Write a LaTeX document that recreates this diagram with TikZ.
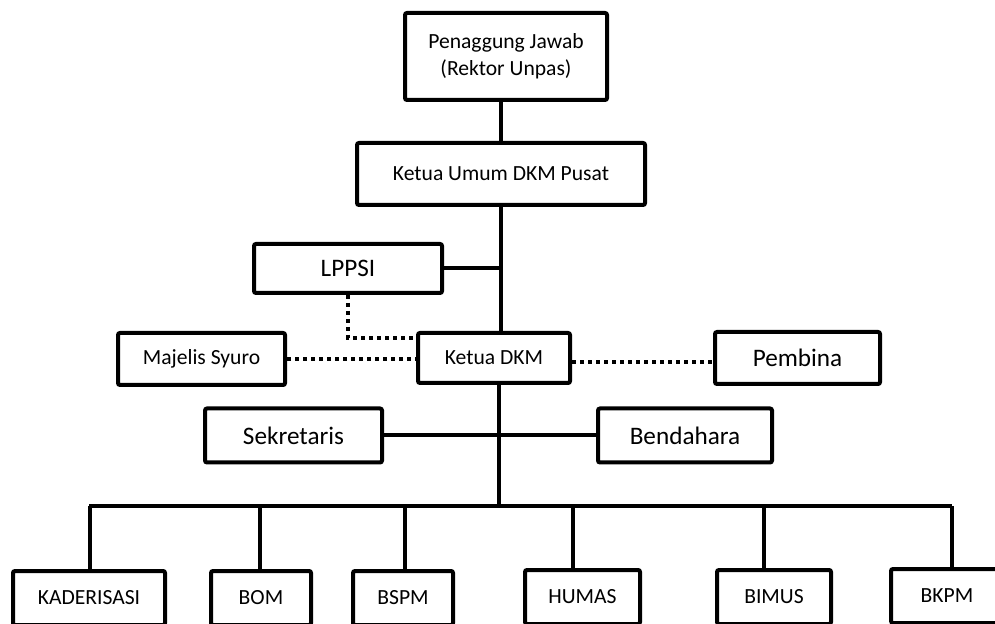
\documentclass[tikz,border=0pt]{standalone}
\usepackage{fontspec}
\setmainfont{Carlito}
\usepackage{tikz}
\usetikzlibrary{positioning,calc}

\begin{document}
\begin{tikzpicture}[x=0.5pt, y=-0.5pt,
    orgbox/.style={draw, line width=2pt, fill=white, rounded corners=1pt, inner sep=0pt,
        font=\fontsize{10.8}{13.5}\selectfont, align=center},
    bigbox/.style={orgbox, font=\fontsize{12.6}{15}\selectfont},
    link/.style={line width=2pt},
    dotlink/.style={line width=2pt, dash pattern=on 2pt off 2pt}]
    \useasboundingbox (0,0) rectangle (995,624);
    \clip (0,0) rectangle (995,624);

    % Top levels
    \node[orgbox, minimum width=101pt, minimum height=43.5pt] (pj) at (506,56.5)
        {Penaggung Jawab\\(Rektor Unpas)};
    \node[orgbox, minimum width=144pt, minimum height=31pt] (kum) at (501,174) {Ketua Umum DKM Pusat};
    \node[bigbox, minimum width=94pt, minimum height=24.5pt] (lppsi) at (348,268.5) {LPPSI};

    % Ketua DKM row
    \node[orgbox, minimum width=76pt, minimum height=25pt] (kdkm) at (494,358) {Ketua DKM};
    \node[orgbox, minimum width=83.5pt, minimum height=26pt] (ms) at (201.5,359) {Majelis Syuro};
    \node[bigbox, minimum width=82.5pt, minimum height=26pt] (pemb) at (797.5,358) {Pembina};

    % Sekretaris / Bendahara
    \node[bigbox, minimum width=88.5pt, minimum height=27pt] (sek) at (293.5,435.5) {Sekretaris};
    \node[bigbox, minimum width=87pt, minimum height=27pt] (bend) at (685,435.5) {Bendahara};

    % Bidang
    \node[orgbox, minimum width=76pt, minimum height=27pt] (kad) at (89,598) {KADERISASI};
    \node[orgbox, minimum width=50pt, minimum height=27pt] (bom) at (261,598) {BOM};
    \node[orgbox, minimum width=50pt, minimum height=27pt] (bspm) at (403,598) {BSPM};
    \node[orgbox, minimum width=57.5pt, minimum height=27pt] (humas) at (582.5,597) {HUMAS};
    \node[orgbox, minimum width=57pt, minimum height=27pt] (bimus) at (774,597) {BIMUS};
    \node[orgbox, minimum width=56pt, minimum height=27pt] (bkpm) at (947,596) {BKPM};

    \coordinate (bus) at (499,506);

    % Solid links
    \draw[link] (kum.north) -- (kum.north |- pj.south);
    \draw[link] (kum.south) -- (kum.south |- kdkm.north);
    \draw[link] (lppsi.east) -- (lppsi.east -| kum.south);
    \draw[link] (kdkm.south -| bus) -- (bus);
    \draw[link] (sek.east) -- (bend.west);
    \draw[link] (kad.north |- bus) -- ([xshift=2.5pt]bkpm.north |- bus);
    \foreach \b/\dx in {kad/0.5pt, bom/-0.5pt, bspm/1pt, humas/-5pt, bimus/-5pt, bkpm/2.5pt} {
        \draw[link] ([xshift=\dx]\b.north) -- ([xshift=\dx]\b.north |- bus);
    }

    % Dotted links
    \draw[dotlink] (lppsi.south) |- ([yshift=10pt]kdkm.west);
    \draw[dotlink] (ms.east) -- (ms.east -| kdkm.west);
    \draw[dotlink] ([yshift=-2pt]kdkm.east) -- ([yshift=-2pt]pemb.west);
\end{tikzpicture}
\end{document}
